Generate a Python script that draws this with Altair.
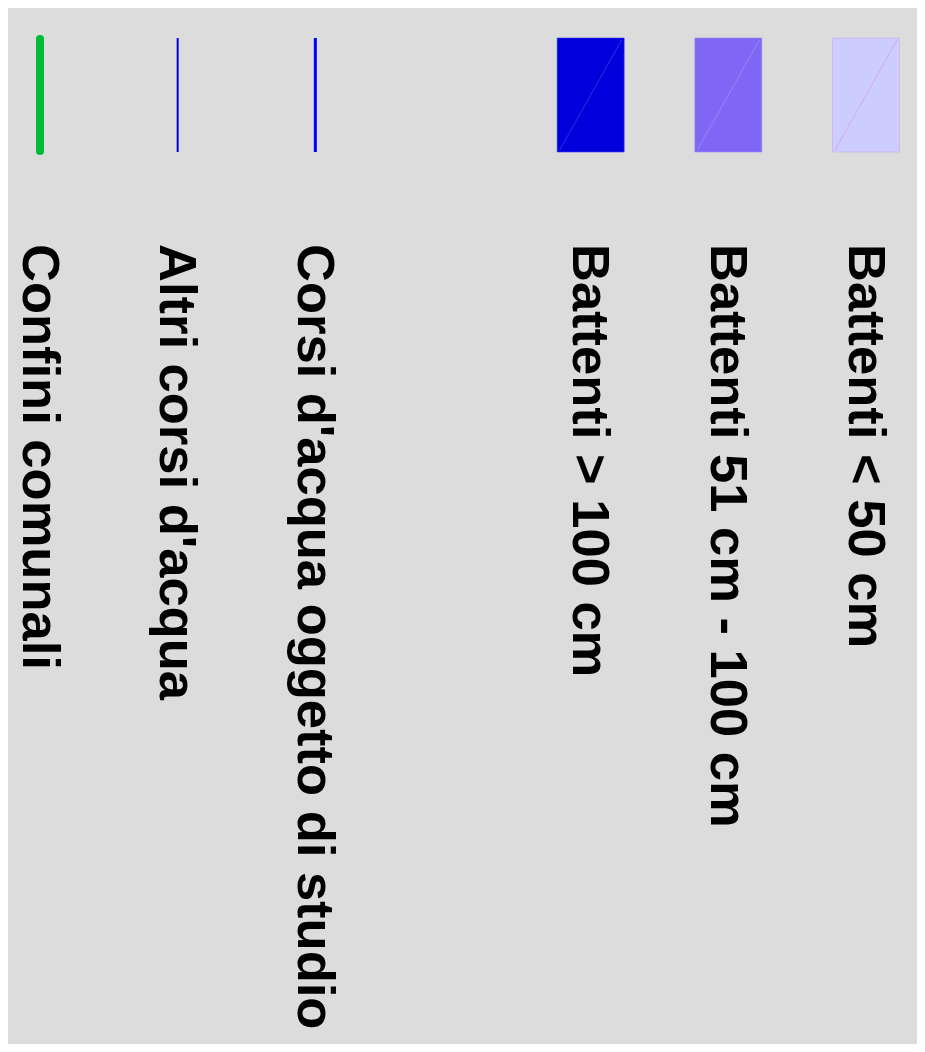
import altair as alt
import pandas as pd

labels = [
    "Battenti < 50 cm",
    "Battenti 51 cm - 100 cm",
    "Battenti > 100 cm",
    "Corsi d'acqua oggetto di studio",
    "Altri corsi d'acqua",
    "Confini comunali",
]
slots = [0, 1, 2, 4, 5, 6]
kinds = ["area", "area", "area", "line", "line", "line"]
colors = ["#ccccff", "#8066f5", "#0000dd", "#0000ff", "#0000ff", "#00bb33"]
diag_colors = ["#d2a6e6", "#9a8cf2", "#3a3ae6", "", "", ""]
line_widths = [0, 0, 0, 3, 2, 8]
caps = ["butt", "butt", "butt", "butt", "butt", "round"]

df = pd.DataFrame({
    "label": labels,
    "slot": slots,
    "kind": kinds,
    "color": colors,
    "diag": diag_colors,
    "lw": line_widths,
    "cap": caps,
})

xs = alt.Scale(domain=[0, 6], range=[858, 32], padding=0, nice=False, zero=False)
X = alt.X("slot:Q", scale=xs, axis=None)

base = alt.Chart(df)

areas = base.transform_filter(alt.datum.kind == "area").mark_bar(width=67, strokeWidth=1, strokeOpacity=0.6).encode(
    x=X,
    y=alt.value(30),
    y2=alt.value(144),
    fill=alt.Color("color:N", scale=None),
    stroke=alt.Color("diag:N", scale=None),
)

diags = base.transform_filter(alt.datum.kind == "area").mark_rule(
    strokeWidth=1, xOffset=-31, x2Offset=31, opacity=0.8
).encode(
    x=X,
    x2=alt.X2("slot:Q"),
    y=alt.value(142),
    y2=alt.value(32),
    color=alt.Color("diag:N", scale=None),
)

thin = base.transform_filter((alt.datum.kind == "line") & (alt.datum.cap == "butt")).mark_rule(strokeCap="butt").encode(
    x=X,
    y=alt.value(30),
    y2=alt.value(144),
    color=alt.Color("color:N", scale=None),
    strokeWidth=alt.StrokeWidth("lw:Q", scale=None),
)

thick = base.transform_filter(alt.datum.cap == "round").mark_rule(strokeCap="round").encode(
    x=X,
    y=alt.value(31),
    y2=alt.value(143),
    color=alt.Color("color:N", scale=None),
    strokeWidth=alt.StrokeWidth("lw:Q", scale=None),
)

texts = base.mark_text(
    angle=90,
    align="left",
    baseline="middle",
    font="Liberation Sans",
    fontWeight="bold",
    fontSize=52.5,
    dy=1.5,
    color="#000000",
).encode(
    x=X,
    y=alt.value(236),
    text="label:N",
)

chart = alt.layer(areas, diags, thin, thick, texts).properties(
    width=909,
    height=1036,
    autosize=alt.AutoSizeParams(type="none"),
    padding=0,
    background="#dcdcdc",
).configure_view(stroke=None)

chart.save("out.html", embed_options={"renderer": "svg", "actions": False})
